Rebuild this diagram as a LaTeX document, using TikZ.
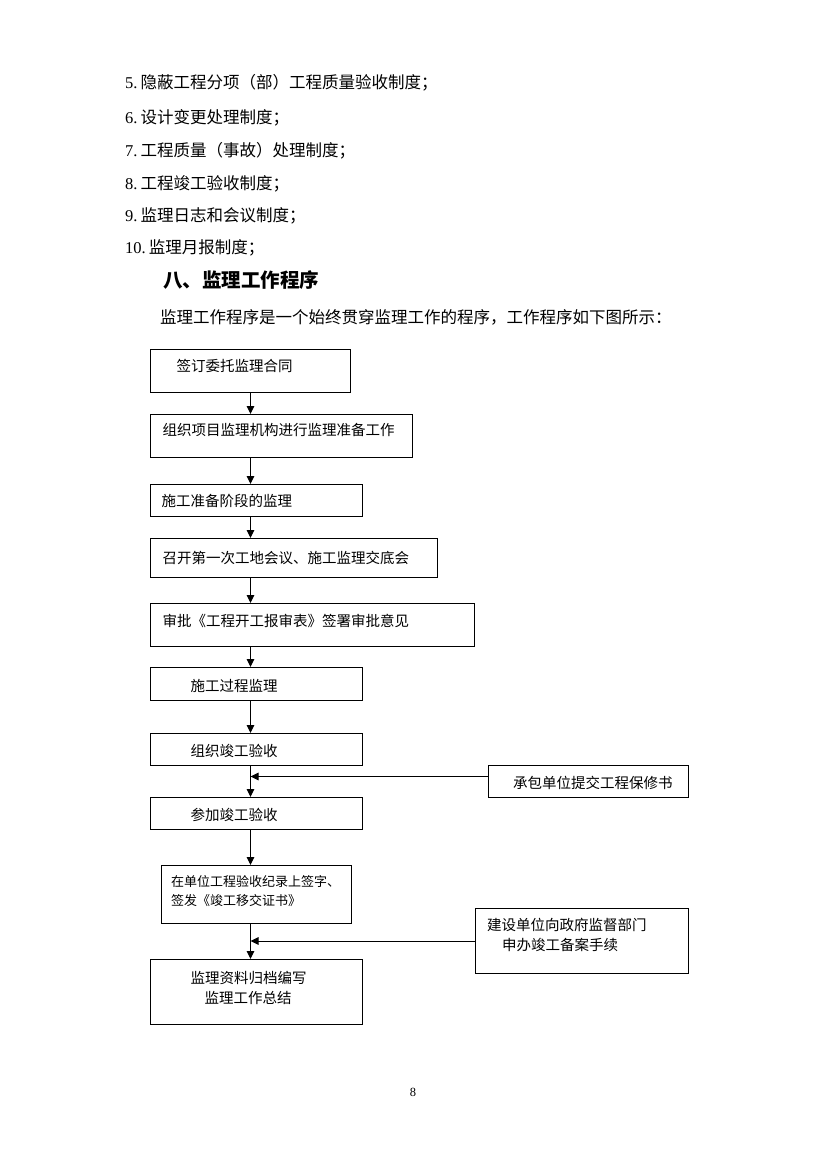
\documentclass[tikz,border=0pt]{standalone}
\usepackage{fontspec}
\setmainfont{Liberation Serif}
\newfontfamily\cjk{Noto Sans CJK SC}
\usepackage{tikz}
\usetikzlibrary{arrows.meta}

\begin{document}
\begin{tikzpicture}[x=1pt, y=-1pt, >={Triangle[length=8pt,width=7.5pt]},
    every node/.style={inner sep=0pt},
    item/.style={anchor=base west, font=\fontsize{16.5}{20}\selectfont},
    box/.style={draw, line width=1pt, anchor=north west, align=left,
        font=\cjk\fontsize{14.5}{20}\selectfont}]
\useasboundingbox (0,0) rectangle (827,1170);

\node[item] (l5) at (125,88) {5.\hspace{3pt}\cjk 隐蔽工程分项（部）工程质量验收制度；};
\node[item] (l6) at (125,123.5) {6.\hspace{3pt}\cjk 设计变更处理制度；};
\node[item] (l7) at (125,156.5) {7.\hspace{3pt}\cjk 工程质量（事故）处理制度；};
\node[item] (l8) at (125,189.5) {8.\hspace{3pt}\cjk 工程竣工验收制度；};
\node[item] (l9) at (125,221.5) {9.\hspace{3pt}\cjk 监理日志和会议制度；};
\node[item] (l10) at (125,253.5) {10.\hspace{3pt}\cjk 监理月报制度；};
\node[anchor=west, font=\cjk\bfseries\fontsize{19.5}{24}\selectfont] (head) at (163,280) {八、监理工作程序};
\node[anchor=west, font=\cjk\fontsize{16.5}{20}\selectfont] (intro) at (160,317)
    {监理工作程序是一个始终贯穿监理工作的程序，工作程序如下图所示：};

\node[box, inner xsep=26pt, text width=148pt, text height=22pt, text depth=21pt] (sign) at (150,349) {签订委托监理合同};
\node[box, inner xsep=12pt, text width=238pt, text height=21pt, text depth=22pt] (prep) at (150,414) {组织项目监理机构进行监理准备工作};
\node[box, inner xsep=11pt, text width=190pt, text height=22pt, text depth=10pt] (stage) at (150,484) {施工准备阶段的监理};
\node[box, inner xsep=12pt, text width=263pt, text height=24.5pt, text depth=14.5pt] (meeting) at (150,538) {召开第一次工地会议、施工监理交底会};
\node[box, inner xsep=12pt, text width=300pt, text height=22.5pt, text depth=20.5pt] (approve) at (150,603) {审批《工程开工报审表》签署审批意见};
\node[box, inner xsep=40pt, text width=132pt, text height=24pt, text depth=9pt] (process) at (150,667) {施工过程监理};
\node[box, inner xsep=40pt, text width=132pt, text height=22.5pt, text depth=9.5pt] (accept) at (150,733) {组织竣工验收};
\node[box, inner xsep=15.5pt, text width=169pt, text height=23pt, text depth=9pt] (warranty) at (488,765) {\hspace*{9pt}承包单位提交工程保修书};
\node[box, inner xsep=40pt, text width=132pt, text height=22.5pt, text depth=9.5pt] (join) at (150,797) {参加竣工验收};
\node[box, inner xsep=10pt, text width=170.5pt, text height=21.4pt, text depth=36.6pt,
    font=\cjk\fontsize{13}{19}\selectfont] (record) at (160.5,865) {在单位工程验收纪录上签字、\\签发《竣工移交证书》};
\node[box, inner xsep=12pt, text width=189.5pt, text height=21.5pt, text depth=43.5pt] (filing) at (474.5,908)
    {建设单位向政府监督部门\\\hspace*{15pt}申办竣工备案手续};
\node[box, inner xsep=40pt, text width=132pt, text height=23.5pt, text depth=41.5pt] (archive) at (150,959)
    {监理资料归档编写\\\hspace*{14pt}监理工作总结};

\node[font=\fontsize{12.5}{14}\selectfont] (pnum) at (413,1092) {8};

\coordinate (w) at ([yshift=5pt]warranty.west);
\path[->, line width=1pt] (sign) edge (sign |- prep.north)
    (sign |- prep.south) edge (sign |- stage.north)
    (sign |- stage.south) edge (sign |- meeting.north)
    (sign |- meeting.south) edge (sign |- approve.north)
    (sign |- approve.south) edge (sign |- process.north)
    (sign |- process.south) edge (sign |- accept.north)
    (sign |- accept.south) edge (sign |- join.north)
    (sign |- join.south) edge (sign |- record.north)
    (sign |- record.south) edge (sign |- archive.north)
    (w) edge (sign |- w)
    (filing) edge (sign |- filing);
\end{tikzpicture}
\end{document}
